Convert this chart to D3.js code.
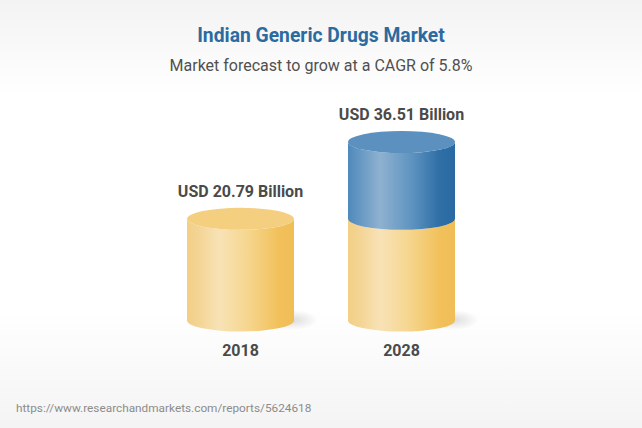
<!DOCTYPE html>
<html><head><meta charset="utf-8">
<script src="https://cdn.jsdelivr.net/npm/d3@7/dist/d3.min.js"></script>
<style>html,body{margin:0;padding:0;background:#fff}svg{display:block}text{font-family:Roboto,sans-serif}</style>
</head><body><svg id="c" width="642" height="428"></svg>
<script>
const years = ["2018", "2028"];
const baseValues = [20.79, 20.79];
const totalValues = [20.79, 36.51];
const valueLabels = ["USD 20.79 Billion", "USD 36.51 Billion"];
const titleText = "Indian Generic Drugs Market";
const subtitleText = "Market forecast to grow at a CAGR of 5.8%";
const sourceText = "https://www.researchandmarkets.com/reports/5624618";

const svg = d3.select("#c"), defs = svg.append("defs");
const x = d3.scaleBand().domain(years).range([187, 455]).paddingInner(54 / 161).paddingOuter(0);
const y = d3.scaleLinear().domain([0, 36.51]).range([320.5, 142]);
const ry = 11;

function grad(id, stops, vertical) {
  const g = defs.append("linearGradient").attr("id", id)
    .attr("x1", 0).attr("y1", 0).attr("x2", vertical ? 0 : 1).attr("y2", vertical ? 1 : 0);
  stops.forEach(s => g.append("stop").attr("offset", s[0]).attr("stop-color", s[1]).attr("stop-opacity", s[2] === undefined ? 1 : s[2]));
}
grad("bg", [[0, "#f3f3f3"], [0.22, "#ffffff"], [0.72, "#ffffff"], [1, "#f4f4f4"]], true);
grad("gold", [[0, "#f2cf85"], [0.12, "#f4d596"], [0.3, "#f8e2b6"], [0.55, "#f6d792"], [0.85, "#f2c15c"], [1, "#f0bd55"]]);
grad("blue", [[0, "#4f89bb"], [0.3, "#8eb1d0"], [0.6, "#5e93c0"], [0.85, "#2f6fa6"], [1, "#2a6aa2"]]);
const sh = defs.append("radialGradient").attr("id", "shadow");
sh.append("stop").attr("offset", 0).attr("stop-color", "#9a9a9a").attr("stop-opacity", 0.34);
sh.append("stop").attr("offset", 1).attr("stop-color", "#9a9a9a").attr("stop-opacity", 0);

svg.append("rect").attr("width", 642).attr("height", 428).attr("fill", "url(#bg)");

const body = (cx, rx, yTop, yBot) =>
  `M${cx - rx},${yTop}L${cx - rx},${yBot}A${rx},${ry} 0 0 0 ${cx + rx},${yBot}L${cx + rx},${yTop}A${rx},${ry} 0 0 1 ${cx - rx},${yTop}Z`;

years.forEach((yr, i) => {
  const rx = x.bandwidth() / 2, cx = x(yr) + rx, g = svg.append("g");
  g.append("ellipse").attr("cx", cx + rx - 2).attr("cy", y(0) - 0.5)
    .attr("rx", 26).attr("ry", 10).attr("fill", "url(#shadow)");
  g.append("path").attr("d", body(cx, rx, y(baseValues[i]), y(0))).attr("fill", "url(#gold)");
  if (totalValues[i] > baseValues[i]) {
    g.append("path").attr("d", body(cx, rx, y(totalValues[i]), y(baseValues[i]))).attr("fill", "url(#blue)");
  }
  g.append("ellipse").attr("cx", cx).attr("cy", y(totalValues[i])).attr("rx", rx).attr("ry", ry)
    .attr("fill", totalValues[i] > baseValues[i] ? "#5b90bf" : "#f5cf80");
  svg.append("text").attr("x", cx).attr("y", y(totalValues[i]) - 22).attr("text-anchor", "middle")
    .attr("font-size", 16).attr("font-weight", 700).attr("fill", "#4a4a4a").text(valueLabels[i]);
  svg.append("text").attr("x", cx).attr("y", 356).attr("text-anchor", "middle")
    .attr("font-size", 16).attr("font-weight", 700).attr("fill", "#4a4a4a").text(yr);
});

svg.append("text").attr("x", 321).attr("y", 42).attr("text-anchor", "middle")
  .attr("font-size", 19.3).attr("font-weight", 700).attr("fill", "#2b6b9f").text(titleText);
svg.append("text").attr("x", 321).attr("y", 71).attr("text-anchor", "middle")
  .attr("font-size", 16).attr("fill", "#505050").text(subtitleText);
svg.append("text").attr("x", 16).attr("y", 412)
  .attr("font-size", 11.8).attr("fill", "#8c8c8c").text(sourceText);
</script></body></html>
